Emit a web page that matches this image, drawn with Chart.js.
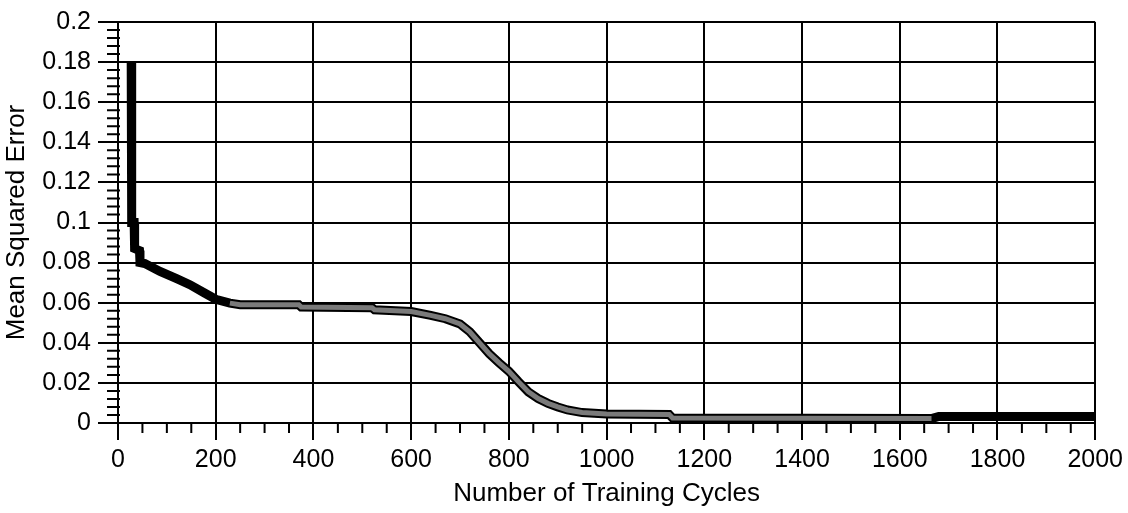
<!DOCTYPE html>
<html lang="en">
<head>
    <meta charset="utf-8">
    <script src="https://cdn.jsdelivr.net/npm/chart.js@4.4.1/dist/chart.umd.min.js"></script>
    <style>
        html, body { margin: 0; padding: 0; background: #fff; }
        #wrap { width: 1128px; height: 513px; position: relative; }
    </style>
</head>
<body>
<div id="wrap"><canvas id="myChart"></canvas></div>
<script>
// training cycles (x) and mean squared error (y)
var cycles = [27, 28, 33, 34, 44, 45, 55, 86, 120, 147, 178, 200, 229, 250, 370, 375, 520, 525, 600,
              640, 670, 700, 720, 740, 760, 780, 800, 820, 840, 860, 880, 900, 920, 950, 1000, 1128, 1135, 1665, 1680, 2000];
var mse    = [0.18, 0.1, 0.1, 0.087, 0.086, 0.08, 0.0795, 0.0756, 0.072, 0.069, 0.0647, 0.0617, 0.0598, 0.059, 0.059, 0.0578, 0.0575, 0.0565, 0.0556,
              0.0537, 0.052, 0.0494, 0.0455, 0.040, 0.0345, 0.030, 0.0258, 0.0205, 0.0155, 0.0122, 0.0098, 0.008, 0.0065, 0.0052, 0.0045, 0.0043, 0.0025, 0.0022, 0.0033, 0.0033];
// part of the run drawn in grey
var greyFrom = 229;
var greyTo = 1665;

var xTickLabels = ['0', '200', '400', '600', '800', '1000', '1200', '1400', '1600', '1800', '2000'];
var yTickLabels = ['0', '0.02', '0.04', '0.06', '0.08', '0.1', '0.12', '0.14', '0.16', '0.18', '0.2'];

var points = cycles.map(function(c, i) { return {x: c, y: mse[i]}; });
var greyPoints = points.filter(function(p) { return p.x >= greyFrom && p.x <= greyTo; });

var FONT = 'Liberation Sans, Arial, Helvetica, sans-serif';

// small minor tick marks along both axes
var minorTicks = {
    id: 'minorTicks',
    afterDraw: function(chart) {
        var ctx = chart.ctx;
        var xs = chart.scales.x, ys = chart.scales.y;
        var area = chart.chartArea;
        ctx.save();
        ctx.strokeStyle = '#000';
        ctx.lineWidth = 2;
        ctx.beginPath();
        for (var v = 50; v < 2000; v += 50) {
            if (v % 200 === 0) continue;
            var px = xs.getPixelForValue(v);
            ctx.moveTo(px, area.bottom);
            ctx.lineTo(px, area.bottom + 10);
        }
        for (var k = 1; k < 50; k++) {
            if (k % 5 === 0) continue;
            var py = ys.getPixelForValue(k * 0.004);
            ctx.moveTo(area.left - 11, py);
            ctx.lineTo(area.left + 2, py);
        }
        ctx.stroke();
        ctx.restore();
    }
};

var ctx = document.getElementById('myChart').getContext('2d');
var myChart = new Chart(ctx, {
    type: 'line',
    data: {
        datasets: [{
            data: points,
            order: 2,
            borderColor: '#000',
            borderWidth: 9,
            pointRadius: 0,
            tension: 0,
            borderJoinStyle: 'miter',
            borderCapStyle: 'butt'
        }, {
            data: greyPoints,
            order: 1,
            borderColor: '#7a7a7a',
            borderWidth: 5,
            pointRadius: 0,
            tension: 0
        }]
    },
    options: {
        responsive: true,
        maintainAspectRatio: false,
        animation: false,
        layout: { padding: { top: 18, right: 31, left: 0, bottom: 0 } },
        plugins: {
            legend: { display: false },
            tooltip: { enabled: false }
        },
        scales: {
            x: {
                type: 'linear',
                min: 0,
                max: 2000,
                afterFit: function(s) { s.height = 90; },
                ticks: {
                    stepSize: 200,
                    autoSkip: false,
                    maxRotation: 0,
                    padding: 5,
                    color: '#000',
                    font: { family: FONT, size: 25 },
                    callback: function(v, i) { return xTickLabels[i]; }
                },
                grid: { color: '#000', lineWidth: 2, tickLength: 17, tickColor: '#000', tickWidth: 2 },
                border: { display: true, color: '#000', width: 2 },
                title: {
                    display: true,
                    text: 'Number of Training Cycles',
                    color: '#000',
                    font: { family: FONT, size: 26 },
                    padding: { top: 0, bottom: 4 }
                }
            },
            y: {
                min: 0,
                max: 0.2,
                afterFit: function(s) { s.width = 118; },
                ticks: {
                    stepSize: 0.02,
                    autoSkip: false,
                    padding: 7,
                    color: '#000',
                    font: { family: FONT, size: 25 },
                    callback: function(v, i) { return yTickLabels[i]; }
                },
                grid: { color: '#000', lineWidth: 2, tickLength: 20, tickColor: '#000', tickWidth: 2 },
                border: { display: true, color: '#000', width: 2 },
                title: {
                    display: true,
                    text: 'Mean Squared Error',
                    color: '#000',
                    font: { family: FONT, size: 26 },
                    padding: { top: 1, bottom: 0 }
                }
            }
        }
    },
    plugins: [minorTicks]
});
</script>
</body>
</html>
